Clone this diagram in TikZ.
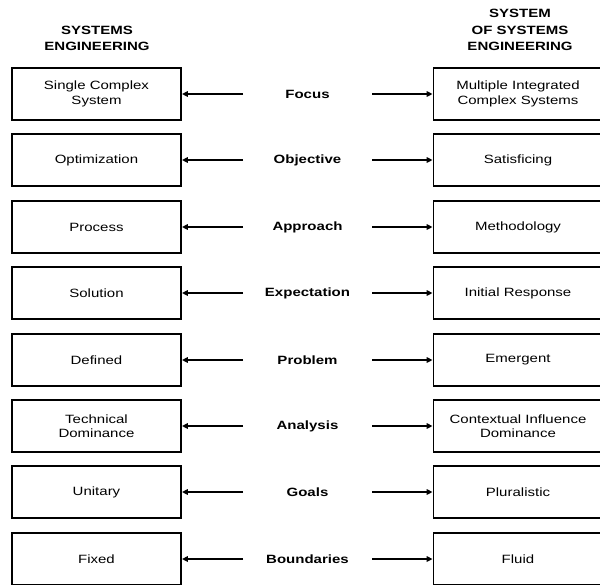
\documentclass[tikz,border=0pt]{standalone}
\usepackage{fontspec}
\setmainfont{Liberation Sans}[FakeStretch=1.25]
\usetikzlibrary{arrows.meta}
\begin{document}
\begin{tikzpicture}[x=1pt,y=-1pt,
  box/.style={draw, line width=1.8pt, minimum width=169pt, minimum height=52pt, inner sep=0pt, align=center, font=\fontsize{12}{14.5}\selectfont},
  lbl/.style={inner sep=0pt, font=\fontsize{12}{14.5}\selectfont\bfseries},
  hdr/.style={align=center, inner sep=0pt, font=\fontsize{12}{16.5}\selectfont\bfseries},
  conn/.style={line width=1.8pt, -{Triangle[length=6pt,width=5.5pt]}}]
\useasboundingbox (0,0) rectangle (600,584);
\clip (0,0) rectangle (600,584);
\node[hdr] (hl) at (97,38.5) {SYSTEMS\\ENGINEERING};
\node[hdr] (hr) at (520,30) {SYSTEM\\OF SYSTEMS\\ENGINEERING};
\foreach \l/\c/\r [count=\i from 0] in {
  {Single Complex\\System}/Focus/{Multiple Integrated\\Complex Systems},
  {Optimization}/Objective/{Satisficing},
  {Process}/Approach/{Methodology},
  {Solution}/Expectation/{Initial Response},
  {Defined}/Problem/{Emergent},
  {Technical\\Dominance}/Analysis/{Contextual Influence\\Dominance},
  {Unitary}/Goals/{Pluralistic},
  {Fixed}/Boundaries/{Fluid}}{
  \pgfmathsetmacro\y{round(94+66.4*\i)}
  \node[box] (L\i) at (96.5,\y) {\l};
  \node[box] (R\i) at (518,\y) {\r};
  \node[lbl] (C\i) at (307.5,\y) {\c};
  \coordinate (CL\i) at (243,\y);
  \coordinate (CR\i) at (372,\y);
  \draw[conn] (CL\i) -- (L\i.east);
  \draw[conn] (CR\i) -- (R\i.west);
}
\end{tikzpicture}
\end{document}
